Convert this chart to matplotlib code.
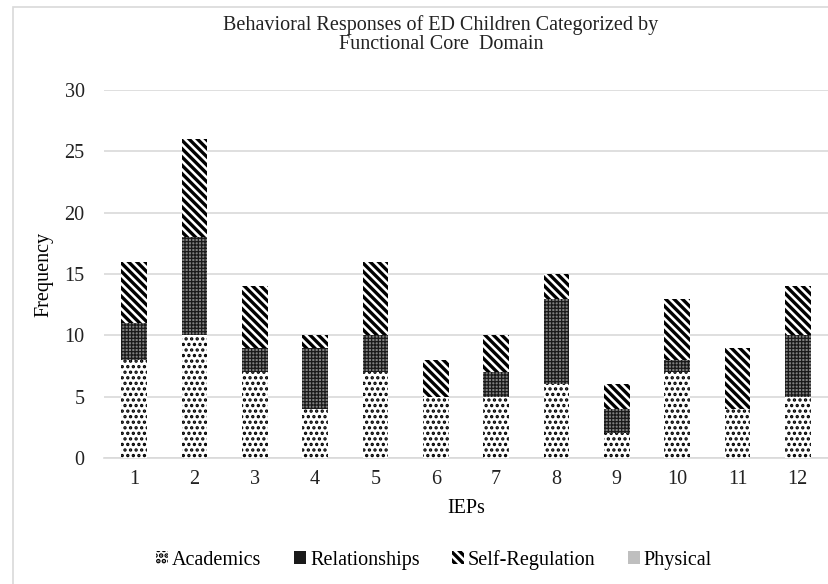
import numpy as np
import matplotlib.pyplot as plt
from matplotlib.patches import Rectangle

plt.rcParams['font.family'] = ['Liberation Serif', 'DejaVu Serif']

# IEP numbers and frequencies per functional core domain
ieps = ['1', '2', '3', '4', '5', '6', '7', '8', '9', '10', '11', '12']
academics = [8, 10, 7, 4, 7, 5, 5, 6, 2, 7, 4, 5]
relationships = [3, 8, 2, 5, 3, 0, 2, 7, 2, 1, 0, 5]
self_regulation = [5, 8, 5, 1, 6, 3, 3, 2, 2, 5, 5, 4]
physical = [0, 0, 0, 0, 0, 0, 0, 0, 0, 0, 0, 0]

x = np.arange(1, len(ieps) + 1)
w = 0.42
fs = 14.5

fig = plt.figure(figsize=(8.29, 5.84), dpi=100)
ax = fig.add_axes([104 / 829, 1 - 458 / 584, 724 / 829, 368 / 584])

# outer chart border
fig.patches.append(Rectangle((13 / 829, -0.01), 1, 1 - 7 / 584 + 0.01,
                             transform=fig.transFigure, fill=False,
                             edgecolor='#d9d9d9', linewidth=1.2))

def stacked(vals, bottom, hatch, color, face, hlw, label):
    plt.rcParams['hatch.linewidth'] = hlw
    bars = ax.bar(x, vals, w, bottom=bottom, facecolor=face, edgecolor=color,
                  hatch=hatch, linewidth=0, label=label, zorder=3)
    for b in bars:
        if hasattr(b, 'set_hatch_linewidth'):
            b.set_hatch_linewidth(hlw)
    return bars

b0 = np.zeros(len(ieps))
stacked(academics, b0, '...', 'black', 'white', 1.6, 'Academics')
b1 = b0 + academics
stacked(relationships, b1, '+++++', '#1a1a1a', '#808080', 0.9, 'Relationships')
b2 = b1 + relationships
stacked(self_regulation, b2, '\\\\\\\\', 'black', 'white', 2.4, 'Self-Regulation')
b3 = b2 + self_regulation
ax.bar(x, physical, w, bottom=b3, color='#bfbfbf', label='Physical', zorder=3)

ax.set_xlim(0.5, 12.5)
ax.set_ylim(0, 30)
ax.set_yticks(range(0, 31, 5))
ax.set_xticks(x)
ax.set_xticklabels(ieps)
ax.yaxis.grid(True, color='#d9d9d9', linewidth=1.2, zorder=0)
ax.set_axisbelow(True)
for s in ['top', 'right', 'left']:
    ax.spines[s].set_visible(False)
ax.spines['bottom'].set_color('#d9d9d9')
ax.spines['bottom'].set_linewidth(1.2)
ax.tick_params(axis='both', length=0, labelsize=fs, colors='#222222', pad=9)
ax.tick_params(axis='y', pad=14)

ax.set_xlabel('IEPs', fontsize=fs, labelpad=7)
ax.set_ylabel('Frequency', fontsize=fs, labelpad=8)
fig.text(0.532, 0.975, 'Behavioral Responses of ED Children Categorized by\nFunctional Core  Domain',
         ha='center', va='top', fontsize=14.5, color='#222222', linespacing=1.05)

ax.legend(loc='center', bbox_to_anchor=(0.456, -0.277), ncol=4, frameon=False,
          fontsize=fs, handlelength=0.6, handleheight=0.6, handletextpad=0.2,
          columnspacing=1.6)

fig.savefig('out.png', dpi=100)
